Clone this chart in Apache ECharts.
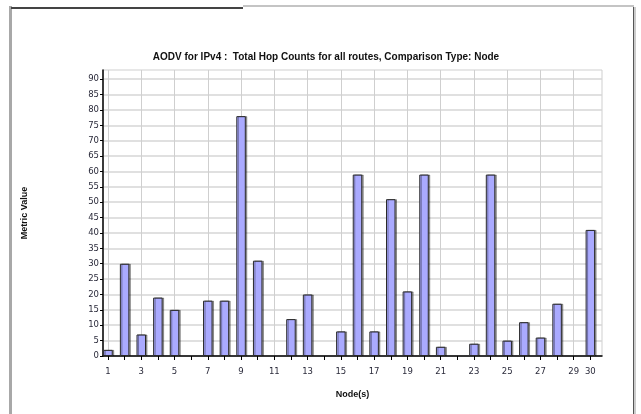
<!DOCTYPE html>
<html>
<head>
<meta charset="utf-8">
<script src="https://cdn.jsdelivr.net/npm/echarts@6/dist/echarts.min.js"></script>
<style>
  html, body { margin: 0; padding: 0; background: #fff; }
  #chart { width: 641px; height: 414px; }
</style>
</head>
<body>
<div id="chart"></div>
<script>
// Total hop counts per node
const nodes = [1, 2, 3, 4, 5, 6, 7, 8, 9, 10, 11, 12, 13, 14, 15,
               16, 17, 18, 19, 20, 21, 22, 23, 24, 25, 26, 27, 28, 29, 30];
const hopCounts = [2, 30, 7, 19, 15, 0, 18, 18, 78, 31, 0, 12, 20, 0, 8,
                   59, 8, 51, 21, 59, 3, 0, 4, 59, 5, 11, 6, 17, 0, 41];

// Axis tick positions and labels
const xTickNodes = nodes;
const xLabelNodes = [1, 3, 5, 7, 9, 11, 13, 15, 17, 19, 21, 23, 25, 27, 29, 30];
const xGridNodes = [1, 3, 5, 7, 9, 11, 13, 15, 17, 19, 21, 23, 25, 27, 29];
const yTicks = [0, 5, 10, 15, 20, 25, 30, 35, 40, 45, 50, 55, 60, 65, 70, 75, 80, 85, 90];

const titleText = 'AODV for IPv4 :  Total Hop Counts for all routes, Comparison Type: Node';
const yName = 'Metric Value';
const xName = 'Node(s)';

const chart = echarts.init(document.getElementById('chart'), null, { renderer: 'canvas' });

const labelFont = { fontFamily: 'DejaVu Sans', fontSize: 8.5, color: '#2a2a3a' };
const nameFont = { fontFamily: 'Liberation Sans', fontWeight: 'bold', fontSize: 9, color: '#111' };

// zero-height nodes have no bar
const barData = nodes.map((n, i) => [n, hopCounts[i] === 0 ? '-' : hopCounts[i]]);

chart.setOption({
  animation: false,
  backgroundColor: '#ffffff',
  title: {
    text: titleText,
    left: 321,
    top: 47,
    textAlign: 'center',
    textStyle: { fontFamily: 'Liberation Sans', fontWeight: 'bold', fontSize: 10, color: '#111' }
  },
  grid: {
    left: 103, right: 39, top: 70, bottom: 58,
    show: true, borderColor: '#cfcfcf', borderWidth: 1
  },
  xAxis: [
    {
      type: 'value',
      min: 0.7,
      max: 30.7,
      position: 'bottom',
      name: xName,
      nameLocation: 'middle',
      nameGap: 34,
      nameTextStyle: nameFont,
      axisLine: { show: true, onZero: false, lineStyle: { color: '#000', width: 1.5 } },
      axisTick: { show: true, length: 4, customValues: xTickNodes, lineStyle: { color: '#000' } },
      axisLabel: { customValues: xLabelNodes, margin: 11, ...labelFont },
      splitLine: { show: false }
    },
    {
      type: 'value',
      min: 0.7,
      max: 30.7,
      position: 'top',
      axisLine: { show: false },
      axisTick: { show: false, customValues: xGridNodes },
      axisLabel: { show: false, customValues: xGridNodes },
      splitLine: { show: true, lineStyle: { color: '#cfcfcf', width: 1 } }
    }
  ],
  yAxis: {
    type: 'value',
    min: 0,
    max: 93,
    name: yName,
    nameLocation: 'middle',
    nameGap: 74,
    nameTextStyle: nameFont,
    axisLine: { show: true, onZero: false, lineStyle: { color: '#000', width: 1.5 } },
    axisTick: { show: true, length: 3, customValues: yTicks, lineStyle: { color: '#000' } },
    axisLabel: { customValues: yTicks, margin: 4, ...labelFont },
    splitLine: { show: true, lineStyle: { color: '#d6d6d6', width: 1.5 } }
  },
  series: [{
    type: 'bar',
    xAxisIndex: 0,
    barWidth: 9.5,
    data: barData,
    itemStyle: {
      color: '#aaaaff',
      borderColor: '#2a2a2a',
      borderWidth: 1,
      shadowColor: 'rgba(0,0,0,0.35)',
      shadowOffsetX: 1.5,
      shadowOffsetY: 0
    }
  }],
  graphic: [
    // window frame
    { type: 'rect', shape: { x: 9, y: 6, width: 3, height: 410 }, style: { fill: '#a8a8a8' }, silent: true },
    { type: 'line', shape: { x1: 11, y1: 8, x2: 243, y2: 8 }, style: { stroke: '#444', lineWidth: 2 }, silent: true },
    { type: 'line', shape: { x1: 243, y1: 6, x2: 634, y2: 6 }, style: { stroke: '#c4c4c4', lineWidth: 2 }, silent: true },
    { type: 'line', shape: { x1: 633.5, y1: 7, x2: 633.5, y2: 414 }, style: { stroke: '#555', lineWidth: 1 }, silent: true },
    { type: 'line', shape: { x1: 635, y1: 7, x2: 635, y2: 414 }, style: { stroke: '#bbb', lineWidth: 1.5 }, silent: true }
  ]
});
</script>
</body>
</html>
